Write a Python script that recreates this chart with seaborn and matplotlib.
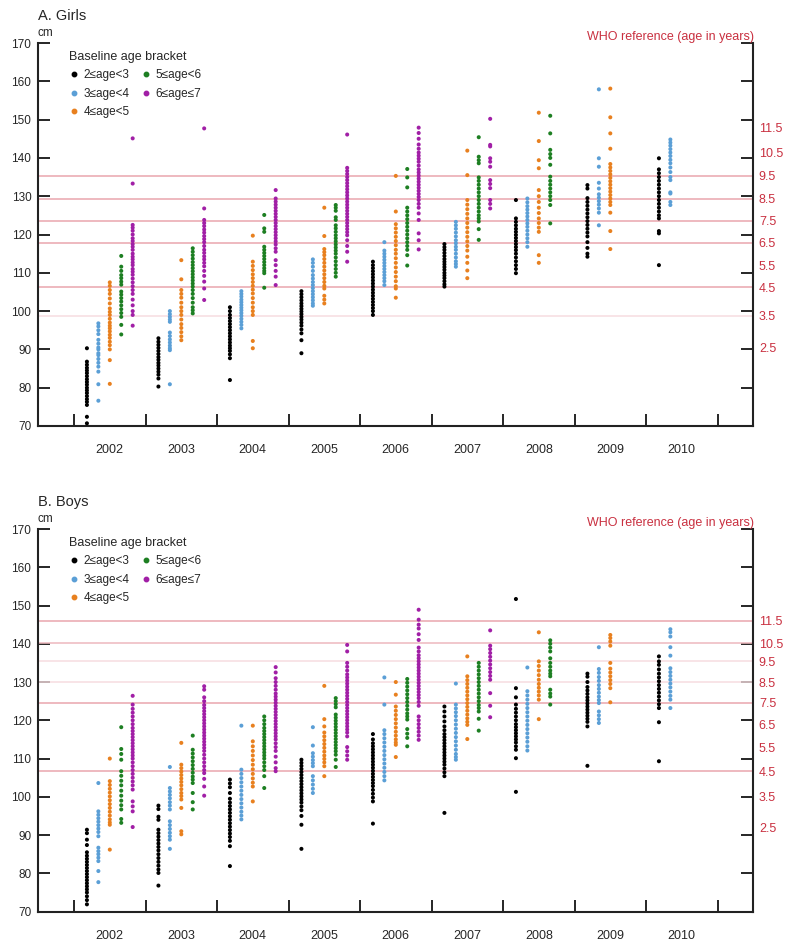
import numpy as np
import pandas as pd
import seaborn as sns
import matplotlib.pyplot as plt
from matplotlib.lines import Line2D

# Data (heights in cm), one dict per baseline age bracket
years = [2002, 2003, 2004, 2005, 2006, 2007, 2008, 2009, 2010]
groups = ["2\u2264age<3", "3\u2264age<4", "4\u2264age<5", "5\u2264age<6", "6\u2264age\u22647"]

girls_age2 = {
    2002: [90.3, 86.8, 86, 85.2, 84.5, 83.8, 83, 82.2, 81.5, 80.8, 80, 79.3, 78.6, 77.8, 77, 76.3, 75.5, 72.4, 70.7],
    2003: [92.9, 92, 91.2, 90.4, 89.6, 88.8, 88, 87.3, 86.5, 85.8, 85, 84.2, 83.4, 82.4, 80.3],
    2004: [101, 100, 99, 98.2, 97.4, 96.6, 95.8, 95, 94.2, 93.4, 92.6, 91.8, 91, 90.3, 89.6, 88.7, 87.7, 82],
    2005: [105.2, 104.4, 103.6, 102.8, 102, 101.3, 100.6, 99.9, 99.2, 98.5, 97.8, 97, 96.2, 95.2, 94.2, 92.4, 89],
    2006: [112.9, 112, 111.2, 110.4, 109.6, 108.8, 108, 107.2, 106.4, 105.6, 104.8, 104, 103.2, 102.4, 101.6, 100.8, 100, 99],
    2007: [117.5, 116.7, 116, 115.2, 114.4, 113.6, 112.9, 112.2, 111.5, 110.8, 110, 109.3, 108.6, 107.8, 107, 106.4],
    2008: [129, 124.2, 123.3, 122.4, 121.5, 120.7, 119.9, 119.1, 118.3, 117.5, 116.7, 115.9, 115, 114, 113, 112, 111, 109.9],
    2009: [132.9, 132, 129.5, 128.5, 127.5, 126.5, 125.5, 124.5, 123.5, 122.5, 121.5, 120.5, 119.5, 118, 116.5, 115, 114.2],
    2010: [139.9, 137, 136, 135, 134, 133, 132, 131, 130, 129, 128, 127, 126, 125, 124.2, 120.9, 120.3, 112],
}
girls_age3 = {
    2002: [96.8, 96, 95, 94, 92.5, 91.5, 90.5, 90, 89, 88.5, 87.5, 86.5, 85.5, 84.2, 80.9, 76.6],
    2003: [100, 99.2, 98.5, 97.8, 97.2, 94.4, 93.5, 92.6, 91.8, 91, 90.3, 89.8, 80.9],
    2004: [105.2, 104.5, 103.8, 103, 102.3, 101.6, 100.9, 100.2, 99.5, 98.8, 98, 97.2, 96.4, 95.5],
    2005: [113.5, 112.6, 111.6, 110.5, 109.4, 108.5, 107.6, 106.8, 106, 105.2, 104.4, 103.6, 102.8, 102, 101.4],
    2006: [118, 115.8, 115, 114.2, 113.4, 112.6, 111.8, 111, 110.2, 109.4, 108.6, 107.8, 106.8],
    2007: [123.3, 122.4, 121.5, 120.5, 119.5, 118.5, 117.7, 116.8, 116, 115, 114, 113, 112.3, 111.6],
    2008: [129.4, 128.4, 127.4, 126.5, 125.6, 124.7, 123.8, 122.9, 122, 121, 120, 119, 118, 116.8],
    2009: [157.9, 139.9, 137.7, 133.5, 132, 130.5, 129.6, 128.7, 127.8, 126.8, 125.7, 122.4],
    2010: [144.8, 144, 143.2, 142.3, 141.4, 140.5, 139.5, 138.6, 137.5, 136.3, 135, 134.2, 131, 130.7, 128.5, 127.7],
}
girls_age4 = {
    2002: [107.5, 106.6, 105.5, 104.5, 103.3, 102, 100.7, 99.8, 99, 98, 97, 96.2, 95.5, 94.7, 93.8, 93, 92, 91.1, 90, 87.2, 81],
    2003: [113.3, 108.3, 105.5, 104.5, 103.5, 102.2, 101, 100, 99, 97.8, 96.6, 95.6, 94.5, 93.4, 92.4],
    2004: [119.7, 112.9, 111.8, 110.7, 109.6, 108.6, 107.6, 106.6, 105.6, 104.6, 103.4, 102.2, 101, 100, 99, 92.2, 90.3],
    2005: [127, 119.6, 116.2, 115.4, 114.6, 113.6, 112.6, 111.6, 110.6, 109.6, 108.6, 107.6, 106.6, 105.9, 104, 103, 102],
    2006: [135.3, 126, 122.7, 121.6, 120.5, 119.4, 118.3, 117.2, 116, 115, 113.8, 112.6, 111.4, 110.2, 109, 107.8, 106.5, 105.9, 103.5],
    2007: [141.9, 135.5, 129, 127.8, 126.6, 125.4, 124.2, 123, 121.8, 120.6, 119.4, 118.2, 117, 115.8, 114.2, 112.6, 110.6, 108.6],
    2008: [151.8, 144.4, 139.4, 137.3, 131.6, 130, 128.5, 127, 125.6, 124.2, 123, 121.8, 120.7, 114.6, 112.6],
    2009: [158.1, 150.6, 146.4, 142.4, 138.4, 137.5, 136.6, 135.7, 134.8, 133.9, 133, 132.1, 131.2, 130.3, 129.4, 128.5, 127.7, 125.7, 120.9, 116.2],
}
girls_age5 = {
    2002: [114.4, 111.6, 110.5, 109.4, 108.6, 107.7, 106.9, 105.1, 104.3, 103.4, 102.5, 101.5, 100.5, 99.5, 98.5, 96.4, 93.9],
    2003: [116.4, 115.5, 114.6, 113.7, 112.8, 112, 111.2, 110.4, 109.6, 108.8, 108, 107.2, 106.4, 105.5, 104.5, 103.4, 102.2, 101, 100.2, 99.4],
    2004: [125.1, 121.6, 120.7, 116.8, 116, 115.2, 114.4, 113.6, 112.8, 112, 111.2, 110.5, 109.9, 106.1],
    2005: [127.7, 127, 126.2, 124.5, 123.8, 122.4, 121.6, 120.7, 119.8, 119, 118.2, 117.4, 116.6, 115.8, 115, 114, 113, 112, 111, 110, 109],
    2006: [137.1, 134.9, 132.3, 127, 126, 125, 124, 123, 122, 121, 120, 119, 118, 117, 116, 114.6, 111.9],
    2007: [145.4, 140.3, 139.4, 138.6, 134.9, 134, 133, 132, 131, 130, 129, 128, 127, 126, 125, 124.2, 123.4, 121.4, 118.6],
    2008: [151, 146.4, 142.1, 141, 140, 138.2, 135.1, 134, 133, 132, 131, 130, 129, 127.7, 122.9],
}
girls_age6 = {
    2002: [145.1, 133.3, 122.5, 121.8, 121, 120, 119, 118.3, 117.5, 116.8, 116, 115, 114.2, 113.5, 112.7, 112, 111,
           110.3, 109.5, 108.5, 107.5, 106.5, 105.5, 104.5, 103, 101.5, 100, 99, 96.2],
    2003: [147.7, 126.8, 123.8, 123, 122.2, 121.3, 120.5, 119.6, 118.8, 118, 117, 116, 115.2, 114.3, 113.5, 112.6,
           111.7, 110.5, 109.2, 107.7, 105.9, 102.9],
    2004: [131.6, 129.4, 128.6, 127.8, 127, 126.2, 125.4, 124.6, 123.8, 123, 122.2, 121.4, 120.6, 119.8, 119, 118.2,
           117.4, 116.4, 115.5, 113.3, 112, 110.5, 109, 106.8],
    2005: [146.1, 137.4, 136.6, 135.8, 135, 134.2, 133.4, 132.6, 131.8, 131, 130.2, 129.4, 128.6, 127.8, 127, 126.2,
           125.4, 124.6, 123.8, 123, 122.2, 121.4, 120.6, 119.8, 118.5, 117, 115.5, 112.9],
    2006: [147.9, 146.5, 145, 143.5, 142.4, 141.4, 140.6, 139.8, 139, 138, 137, 136.2, 135.4, 134.6, 133.8, 133, 132.2,
           131.4, 130.6, 129.8, 129, 128, 127, 125.5, 123.8, 120.3, 118.5, 116.1],
    2007: [150.2, 143.4, 143, 139.9, 139, 137.7, 134.2, 133.2, 132.1, 129, 128, 126.8],
}

boys_age2 = {
    2002: [91.4, 90.5, 88.8, 87.4, 85.5, 84.6, 83.8, 83, 82.2, 81.4, 80.6, 79.8, 79, 78.2, 77.4, 76.6, 75.8, 75, 74, 73, 71.9],
    2003: [97.7, 96.8, 94.8, 94, 91.4, 90.5, 89.6, 88.7, 87.8, 86.9, 86, 85, 84, 83, 82, 81, 80.1, 76.8],
    2004: [104.5, 103.5, 102.5, 101, 99.5, 98.5, 97.6, 96.7, 95.8, 94.9, 94, 93.1, 92.2, 91.3, 90.4, 89.5, 88.5, 87.1, 81.9],
    2005: [109.7, 108.9, 108.1, 107.3, 106.5, 105.7, 104.9, 104.1, 103.3, 102.5, 101.7, 100.9, 100.1, 99.3, 98.5, 97.5, 96.5, 95, 92.7, 86.4],
    2006: [116.4, 115, 114, 113.2, 112.4, 111.6, 110.8, 110, 109.2, 108.4, 107.6, 106.8, 106, 105.2, 104.4, 103.6, 102.8,
           101.8, 100.8, 99.8, 98.8, 93],
    2007: [123.6, 122.3, 121, 119.7, 118.4, 117.4, 116.4, 115.6, 114.8, 114, 113.2, 112.4, 111.6, 110.8, 110, 109.2,
           108.4, 107.4, 106.4, 105.4, 95.8],
    2008: [151.7, 128.4, 126, 124.1, 123, 122, 121, 120, 119, 118.2, 117.4, 116.6, 115.8, 115, 114.2, 113.2, 112.3, 110.1, 101.3],
    2009: [132.2, 131.4, 130, 128.7, 127.8, 126.9, 126, 125.2, 124.4, 123.6, 122.8, 122, 121.2, 120.4, 119.6, 118.4, 108.1],
    2010: [136.7, 135.4, 134.5, 133.3, 132.2, 131.2, 130.2, 129.2, 128.2, 127.2, 126.2, 125.2, 124.2, 123.2, 119.5, 109.3],
}
boys_age3 = {
    2002: [103.6, 96.2, 95.3, 94.4, 93.5, 92.6, 91.7, 90.8, 89.7, 86.7, 85.8, 85, 84.1, 83.2, 80.6, 77.7],
    2003: [107.8, 102.3, 101.4, 100.5, 99.6, 98.6, 97.7, 96.7, 93.6, 92.6, 91.6, 90.6, 89.7, 88.8, 86.4],
    2004: [118.6, 107.1, 106, 104.9, 103.8, 102.7, 101.6, 100.5, 99.4, 98.3, 97.2, 96.1, 95.1, 94.1],
    2005: [118.2, 113.4, 111.4, 110.5, 109.6, 108.8, 108, 105.4, 104.3, 103.2, 102.1, 101],
    2006: [131.2, 124.1, 117.4, 116.4, 115.3, 114.2, 113.1, 112, 110.9, 109.8, 108.7, 107.6, 106.5, 105.4, 104.3],
    2007: [129.6, 124.1, 123.1, 122.1, 121.1, 120, 118.9, 117.8, 116.7, 115.6, 114.5, 113.4, 112.3, 111.2, 110.4, 109.7],
    2008: [133.8, 127.6, 126.5, 125.4, 124.3, 123.2, 122.1, 121, 119.9, 118.8, 117.7, 116.6, 115.5, 114.4, 113.2, 112.1],
    2009: [139.1, 133.4, 132.4, 131.3, 130.3, 129.2, 128.2, 127.2, 126.2, 125.3, 124.5, 122.3, 121.3, 120.3, 119.3],
    2010: [143.8, 143, 141.9, 139.1, 136.9, 133.6, 132.6, 131.6, 130.6, 129.6, 128.6, 127.5, 126.4, 125.4, 123.2],
}
boys_age4 = {
    2002: [110, 104.1, 103.1, 102.1, 101.1, 100.1, 99.1, 98.1, 97.1, 96.1, 95.1, 94.1, 93.3, 92.7, 86.2],
    2003: [114.1, 108.4, 107.5, 106.6, 105.7, 104.8, 103.9, 103, 102, 101, 100.2, 99.3, 97.1, 91, 90.2],
    2004: [118.6, 114.5, 113.2, 112, 110.8, 109.6, 108.4, 107.2, 106, 104.8, 103.7, 102.7, 98.8],
    2005: [129, 120.3, 118.4, 116.8, 115.8, 114.8, 113.8, 112.8, 111.8, 110.8, 109.9, 109, 108, 105.4],
    2006: [130, 126.7, 123.6, 122.5, 121.4, 120.3, 119.2, 118.1, 117, 116, 115, 114.2, 113.6, 110.4],
    2007: [136.7, 131.5, 130.5, 129.5, 128.5, 127.5, 126.5, 125.5, 124.5, 123.5, 122.5, 121.5, 120.5, 119.6, 118.8, 115.1],
    2008: [143, 135.4, 134.2, 133, 131.8, 130.6, 129.5, 128.5, 127.5, 126.5, 125.4, 120.3],
    2009: [142.3, 141.5, 140.6, 139.5, 135, 133.5, 132.5, 131.5, 130.5, 129.5, 128.4, 124.7],
}
boys_age5 = {
    2002: [118.2, 112.5, 111.2, 109.7, 106.7, 105.5, 104.2, 103, 101.6, 100.3, 99, 97.8, 96.7, 94.2, 93.2],
    2003: [116, 112.3, 111.3, 110.3, 109.3, 108.3, 107.3, 106.3, 105.3, 104.5, 103.6, 101, 98.6, 96.7],
    2004: [121, 120, 119, 118, 117.2, 116.4, 115.6, 114.8, 114, 113.2, 112.4, 111.6, 110.8, 110, 109, 108, 107, 105.4, 102.3],
    2005: [125.8, 125, 124.2, 123.4, 121.5, 120.7, 119.9, 119.1, 118.3, 117.5, 116.7, 115.9, 115.1, 114.3, 113.5, 112.7,
           111.9, 111, 109.7, 107.8],
    2006: [130.8, 129.8, 128.8, 127.8, 126.8, 125.8, 124.8, 123.8, 122.8, 121.8, 121, 120.2, 117.7, 116.5, 115.4, 113.2],
    2007: [135, 134, 133, 132, 131, 130, 129, 128, 127, 126, 125, 124, 123.2, 122.3, 120.4, 117.3],
    2008: [140.9, 140, 139, 138, 136.2, 135, 134, 133, 132.2, 131.5, 128, 127, 126.2, 124.1],
}
boys_age6 = {
    2002: [126.4, 124.1, 123, 122, 121, 120, 119, 118, 117.2, 116.4, 115.6, 114.8, 114, 113.2, 112.4, 111.6, 110.8, 110,
           109, 108, 107, 106, 105, 104, 103, 101.9, 98.8, 97.5, 96.2, 92.1],
    2003: [128.9, 128, 126, 125, 124, 123.2, 122.4, 121.6, 120.8, 120, 119.2, 118.4, 117.6, 116.8, 116, 115.2, 114.4,
           113.6, 112.8, 112, 111, 110, 109, 108, 107, 106.2, 104.7, 102.7, 100.3],
    2004: [133.9, 132.5, 131, 130, 129, 128, 127, 126.2, 125.4, 124.6, 123.8, 123, 122.2, 121.4, 120.6, 119.8, 119,
           118.2, 117.4, 116.6, 115.8, 115, 114, 113, 112, 110.5, 109, 107.5, 106.7],
    2005: [139.7, 138, 135, 134, 133, 132, 131.2, 130.4, 129.6, 128.8, 128, 127.2, 126.4, 125.6, 124.8, 124, 123.2,
           122.4, 121.6, 120.8, 120, 119.2, 118.4, 117.6, 116.8, 115.8, 113, 111.9, 110.8, 109.7],
    2006: [148.9, 146.3, 145, 144, 142.5, 141, 139, 138, 137, 136.2, 135.4, 134.6, 133.8, 133, 132.2, 131.4, 130.6,
           129.8, 129, 128.2, 127.4, 126.6, 125.8, 124.8, 123.8, 121, 120, 119, 118, 117, 116, 114.9],
    2007: [143.5, 139.5, 138.6, 137.6, 136.6, 135.6, 134.6, 133.6, 132.6, 131.6, 130.6, 127.1, 123.8, 120.8],
}

# WHO reference median heights (cm) at the ages shown on the right axis
who_ages = ["2.5", "3.5", "4.5", "5.5", "6.5", "7.5", "8.5", "9.5", "10.5", "11.5"]
girls_who_cm = [90.5, 98.8, 106.2, 112.0, 117.9, 123.6, 129.3, 135.3, 141.4, 147.9]
boys_who_cm = [92.0, 100.0, 106.7, 113.0, 118.9, 124.6, 130.0, 135.4, 140.2, 146.0]
# ages drawn as horizontal lines, with line colour
girls_lines = {"3.5": "#f6dde0", "4.5": "#eaa5ad", "6.5": "#eaa5ad", "7.5": "#eaa5ad", "8.5": "#eaa5ad", "9.5": "#eaa5ad"}
boys_lines = {"4.5": "#eaa5ad", "7.5": "#eaa5ad", "8.5": "#f6dde0", "9.5": "#f6dde0", "10.5": "#eeb8be", "11.5": "#eaa5ad"}

palette = ["#000000", "#5b9fd6", "#e8801f", "#1d7f22", "#a11fa6"]
red = "#c93040"


def to_frame(group_dicts):
    rows = []
    for label, d in zip(groups, group_dicts):
        for yr, vals in d.items():
            for v in vals:
                rows.append((str(yr), label, v))
    return pd.DataFrame(rows, columns=["year", "group", "height"])


df_girls = to_frame([girls_age2, girls_age3, girls_age4, girls_age5, girls_age6])
df_boys = to_frame([boys_age2, boys_age3, boys_age4, boys_age5, boys_age6])

sns.set_style("white")
plt.rcParams["font.family"] = ["Liberation Sans", "DejaVu Sans"]

fig = plt.figure(figsize=(8, 9.51), dpi=100)
W, H = 800, 951


def draw_panel(rect, df, who_cm, lines, title, ytop_px):
    ax = fig.add_axes(rect)
    sns.stripplot(data=df, x="year", y="height", hue="group", order=[str(y) for y in years],
                  hue_order=groups, palette=palette, jitter=False, dodge=True, size=2.9,
                  linewidth=0, legend=False, ax=ax, zorder=3)
    for age, col in lines.items():
        ax.axhline(who_cm[who_ages.index(age)], color=col, lw=1.1, zorder=1)

    # right-hand WHO labels on a twin axis
    ax2 = ax.twinx()
    ax2.set_ylim(70, 170)
    ax2.set_yticks(who_cm)
    ax2.set_yticklabels(who_ages, fontsize=9, color=red)
    ax2.tick_params(axis="y", length=0, pad=4)
    for s in ax2.spines.values():
        s.set_visible(False)

    ax.set_xlim(-1.0, 9.0)
    ax.set_ylim(70, 170)
    ax.set_xlabel("")
    ax.set_ylabel("")
    ax.set_xticks(np.arange(len(years)))
    ax.set_xticklabels([str(y) for y in years], fontsize=9)
    ax.set_xticks(np.arange(-0.5, len(years)), minor=True)
    ax.tick_params(axis="x", which="major", length=0, pad=13)
    ax.tick_params(axis="x", which="minor", direction="in", length=9, width=1.4, bottom=True)
    ax.set_yticks(np.arange(70, 171, 10))
    ax.set_yticklabels([str(v) for v in range(70, 171, 10)], fontsize=8.5)
    ax.set_yticks([170], minor=True)
    ax.tick_params(axis="y", which="major", direction="in", length=8.5, width=1.4,
                   left=True, right=True, labelleft=True, labelright=False, pad=5)
    ax.tick_params(axis="y", which="minor", direction="in", length=17, width=1.4, left=True, right=True)
    ax.spines["top"].set_visible(False)
    for s in ["left", "right", "bottom"]:
        ax.spines[s].set_linewidth(1.5)
        ax.spines[s].set_color("#222222")

    handles = [Line2D([], [], marker="o", ls="", color=c, markersize=3.2) for c in palette]
    ax.legend(handles, groups, title="Baseline age bracket", ncol=2, frameon=False,
              loc="upper left", bbox_to_anchor=(0.043, 0.98), borderaxespad=0, borderpad=0,
              alignment="left", handlelength=0.8, handletextpad=0.4, columnspacing=1.0,
              labelspacing=0.55, fontsize=8.5, title_fontsize=9)

    fig.text(38 / W, 1 - ytop_px / H, title, fontsize=10.5, ha="left", va="center")
    fig.text(37 / W, 1 - (ytop_px + 17) / H, "cm", fontsize=8.5, ha="left", va="center")
    fig.text(754 / W, 1 - (ytop_px + 21) / H, "WHO reference (age in years)", fontsize=9,
             color=red, ha="right", va="center")
    return ax


draw_panel([38.3 / W, 1 - 426 / H, 715 / W, 383 / H], df_girls, girls_who_cm, girls_lines, "A. Girls", 16)
draw_panel([38.3 / W, 1 - 911.6 / H, 715 / W, 382.6 / H], df_boys, boys_who_cm, boys_lines, "B. Boys", 502)

fig.savefig("out.png", dpi=100)
